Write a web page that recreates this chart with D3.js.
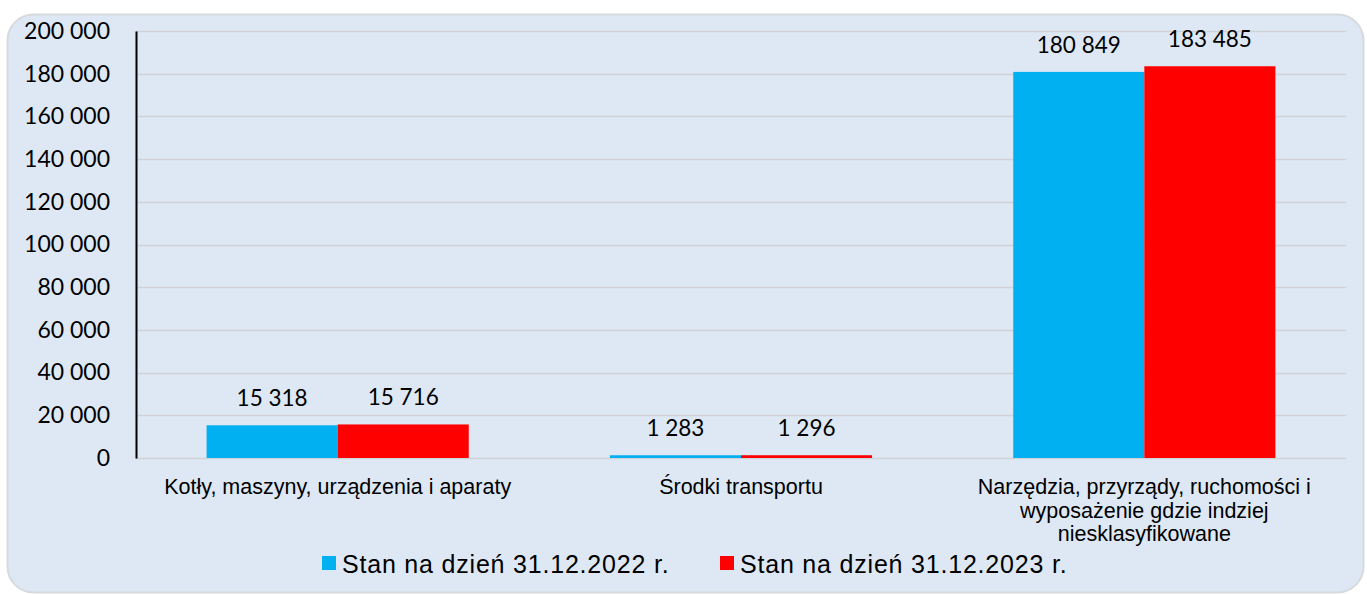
<!DOCTYPE html>
<html>
<head>
<meta charset="utf-8">
<script src="https://cdn.jsdelivr.net/npm/d3@7"></script>
<style>
  body { margin: 0; background: #ffffff; }
  svg { display: block; }
</style>
</head>
<body>
<svg id="chart" width="1367" height="594"></svg>
<script>
// dane z wykresu
const kategorie = [
    ["Kotły, maszyny, urządzenia i aparaty"],
    ["Środki transportu"],
    ["Narzędzia, przyrządy, ruchomości i", "wyposażenie gdzie indziej", "niesklasyfikowane"]
];
const serie = ["Stan na dzień 31.12.2022 r.", "Stan na dzień 31.12.2023 r."];
const wartosci2022 = [15318, 1283, 180849];
const wartosci2023 = [15716, 1296, 183485];
const ticki = [0, 20000, 40000, 60000, 80000, 100000, 120000, 140000, 160000, 180000, 200000];
const kolory = ["#00b0f0", "#ff0000"];

const fmt = v => d3.format(",")(v).replace(/,/g, " ");

const svg = d3.select("#chart");
const width = 1367, height = 594;
const margin = { top: 31, right: 21, bottom: 136, left: 136 };

// tło panelu
svg.append("rect")
    .attr("x", 7.5).attr("y", 14.5)
    .attr("width", 1356).attr("height", 578)
    .attr("rx", 26).attr("ry", 26)
    .attr("fill", "#dee8f5")
    .attr("stroke", "#d6d9dd")
    .attr("stroke-width", 2);

const x0 = d3.scaleBand()
    .domain(d3.range(kategorie.length))
    .range([margin.left, width - margin.right])
    .paddingInner(0.35).paddingOuter(0.175);

const x1 = d3.scaleBand().domain([0, 1]).range([0, x0.bandwidth()]);

const y = d3.scaleLinear().domain([0, 200000]).range([height - margin.bottom, margin.top]);

// siatka
svg.append("g")
    .selectAll("line")
    .data(ticki)
    .join("line")
    .attr("x1", margin.left).attr("x2", width - margin.right)
    .attr("y1", d => Math.round(y(d)) + 0.5).attr("y2", d => Math.round(y(d)) + 0.5)
    .attr("stroke", "#d0d3d6").attr("stroke-width", 1.5);

// oś Y
const osY = svg.append("g")
    .attr("transform", `translate(${margin.left},0)`)
    .call(d3.axisLeft(y).tickValues(ticki).tickFormat(fmt).tickSize(0).tickPadding(26));
osY.select(".domain").attr("stroke", "#000").attr("stroke-width", 2);
osY.selectAll("text")
    .attr("font-family", "Lato, 'Open Sans', sans-serif")
    .attr("font-size", 23)
    .attr("fill", "#000");

// słupki
const dane = kategorie.map((k, i) => [wartosci2022[i], wartosci2023[i]]);
const grupy = svg.append("g")
    .selectAll("g")
    .data(dane)
    .join("g")
    .attr("transform", (d, i) => `translate(${x0(i)},0)`);

grupy.selectAll("rect")
    .data(d => d)
    .join("rect")
    .attr("x", (d, j) => x1(j))
    .attr("y", d => y(d))
    .attr("width", x1.bandwidth())
    .attr("height", d => y(0) - y(d))
    .attr("fill", (d, j) => kolory[j]);

grupy.selectAll("text.wartosc")
    .data(d => d)
    .join("text")
    .attr("class", "wartosc")
    .attr("x", (d, j) => x1(j) + x1.bandwidth() / 2)
    .attr("y", d => y(d) - 19)
    .attr("text-anchor", "middle")
    .attr("font-family", "Lato, 'Open Sans', sans-serif")
    .attr("font-size", 22.5)
    .attr("fill", "#000")
    .text(fmt);

// etykiety kategorii
svg.append("g")
    .selectAll("text")
    .data(kategorie)
    .join("text")
    .attr("x", (d, i) => x0(i) + x0.bandwidth() / 2)
    .attr("y", 494)
    .attr("text-anchor", "middle")
    .attr("font-family", "'Liberation Sans', Arial, sans-serif")
    .attr("font-size", 21.5)
    .attr("fill", "#000")
    .each(function (d) {
        d3.select(this).selectAll("tspan")
            .data(d)
            .join("tspan")
            .attr("x", d3.select(this).attr("x"))
            .attr("dy", (t, k) => k === 0 ? 0 : 23.5)
            .text(t => t);
    });

// legenda
const legX = [322, 720];
const legenda = svg.append("g")
    .selectAll("g")
    .data(serie)
    .join("g")
    .attr("transform", (d, i) => `translate(${legX[i]},556)`);
legenda.append("rect")
    .attr("width", 14).attr("height", 14)
    .attr("fill", (d, i) => kolory[i]);
legenda.append("text")
    .attr("x", 20).attr("y", 16.5)
    .attr("font-family", "'Liberation Sans', Arial, sans-serif")
    .attr("font-size", 25)
    .attr("letter-spacing", 0.8)
    .attr("fill", "#000")
    .text(d => d);
</script>
</body>
</html>
